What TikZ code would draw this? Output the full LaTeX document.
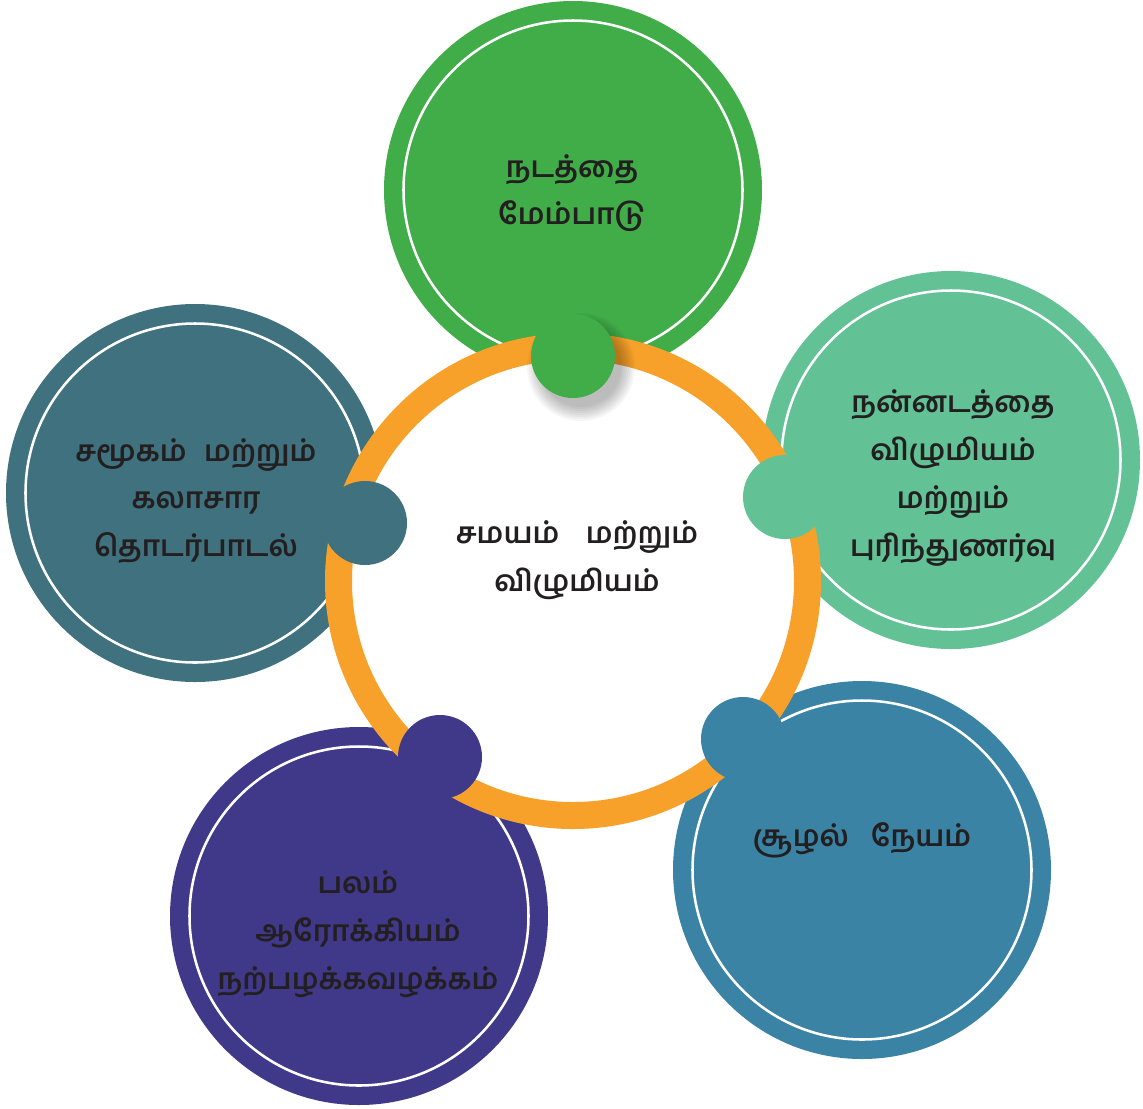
\documentclass[tikz,border=0pt]{standalone}
\usepackage{fontspec}
\newfontfamily\tamil[Script=Tamil]{Hind Madurai}
\definecolor{cgreen}{HTML}{41AD49}
\definecolor{clight}{HTML}{62C296}
\definecolor{cblue}{HTML}{3B83A5}
\definecolor{cpurple}{HTML}{40398A}
\definecolor{cteal}{HTML}{3F717E}
\definecolor{corange}{HTML}{F7A12A}
\definecolor{ctext}{HTML}{231F20}
\begin{document}
\begin{tikzpicture}[x=0.75pt,y=-0.75pt,
  outer/.style={circle, minimum size=283.5pt, inner sep=0pt, fill=#1},
  innerline/.style={circle, minimum size=254.25pt, inner sep=0pt, draw=white, line width=1.9pt},
  ringstyle/.style={circle, minimum size=351.75pt, inner sep=0pt, draw=corange, line width=20.25pt, fill=white},
  knob/.style={circle, minimum size=63pt, inner sep=0pt, fill=#1},
  label/.style={align=center, text=ctext, inner sep=0pt, font=\tamil\bfseries\fontsize{22}{35.8}\selectfont}
]
\useasboundingbox (0,0) rectangle (1143,1108);
% outer coloured circles
\node[outer=cgreen]  (top)    at (573,190) {};
\node[outer=clight]  (right)  at (951,460) {};
\node[outer=cblue]   (bright) at (862,870) {};
\node[outer=cpurple] (bleft)  at (359,916) {};
\node[outer=cteal]   (left)   at (195,493) {};
\node[innerline] (topin)    at (top) {};
\node[innerline] (rightin)  at (right) {};
\node[innerline] (brightin) at (bright) {};
\node[innerline] (bleftin)  at (bleft) {};
\node[innerline] (leftin)   at (left) {};
% central ring
\node[ringstyle] (ring) at (573,581) {};
% shadow of top knob
\foreach \r in {54,52,...,40}{
  \fill[black, opacity=0.035] (581,367) circle (\r);
}
% knobs
\node[knob=cgreen]  (ktop)    at (573,356) {};
\node[knob=clight]  (kright)  at (785,497) {};
\node[knob=cblue]   (kbright) at (743,739) {};
\node[knob=cpurple] (kbleft)  at (440,757) {};
\node[knob=cteal]   (kleft)   at (365,523) {};
% texts
\node[label] (ttop) at (572,193) {நடத்தை\\மேம்பாடு};
\node[label] (tright) at (953,478) {நன்னடத்தை\\விழுமியம்\\மற்றும்\\புரிந்துணர்வு};
\node[label] (tleft) at (196,501) {சமூகம்\hspace{0.6em}மற்றும்\\கலாசார\\தொடர்பாடல்};
\node[label] (tcenter) at (577,560) {சமயம்\hspace{0.9em}மற்றும்\\விழுமியம்};
\node[label] (tbleft) at (358,934) {பலம்\\ஆரோக்கியம்\\நற்பழக்கவழக்கம்};
\node[label] (tbright) at (862,840) {சூழல்\hspace{0.75em}நேயம்};
\end{tikzpicture}
\end{document}
